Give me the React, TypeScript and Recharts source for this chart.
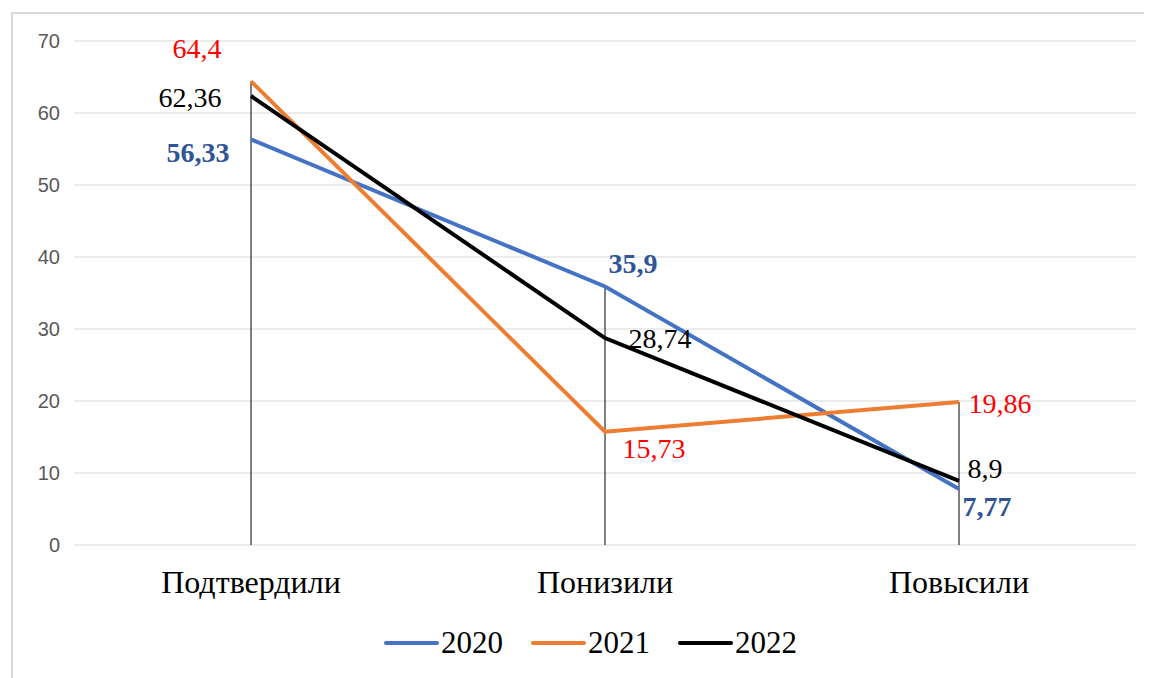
import { CartesianGrid, Legend, Line, LineChart, ReferenceLine, XAxis, YAxis } from 'recharts';

const categories = ['Подтвердили', 'Понизили', 'Повысили'];
const values2020 = [56.33, 35.9, 7.77];
const values2021 = [64.4, 15.73, 19.86];
const values2022 = [62.36, 28.74, 8.9];
const yTicks = [0, 10, 20, 30, 40, 50, 60, 70];

const data = categories.map((category, i) => ({
  category,
  y2020: values2020[i],
  y2021: values2021[i],
  y2022: values2022[i],
}));

// highest value per category, for the drop lines
const dropTops = categories.map((_, i) => Math.max(values2020[i], values2021[i], values2022[i]));

const series = [
  { key: 'y2020', name: '2020', color: '#4472C4', labelColor: '#2F5597', bold: true },
  { key: 'y2021', name: '2021', color: '#ED7D31', labelColor: '#FF0000', bold: false },
  { key: 'y2022', name: '2022', color: '#000000', labelColor: '#000000', bold: false },
];

// label offsets from the point (dx, dy) per series, per category
const labelOffsets: { [key: string]: number[][] } = {
  y2020: [[-53, 13], [28, -23], [28, 17]],
  y2021: [[-54, -33], [49, 17], [41, 1]],
  y2022: [[-61, 1], [55, 0], [26, -12]],
};

const serif = '"Liberation Serif", "Times New Roman", serif';

const makeLabel = (s: (typeof series)[number]) => (props: any) => {
  const { x, y, value, index } = props;
  const [dx, dy] = labelOffsets[s.key][index];
  return (
    <text
      x={x + dx}
      y={y + dy}
      textAnchor='middle'
      dominantBaseline='central'
      fill={s.labelColor}
      fontFamily={serif}
      fontSize={28}
      fontWeight={s.bold ? 700 : 400}
    >
      {String(value).replace('.', ',')}
    </text>
  );
};

const LegendContent = () => (
  <div style={{ display: 'flex', alignItems: 'center', fontFamily: serif, fontSize: 31, color: '#000', height: 30 }}>
    {series.map((s, i) => (
      <div key={s.key} style={{ display: 'flex', alignItems: 'center', marginLeft: i === 0 ? 0 : 28 }}>
        <span style={{ display: 'inline-block', width: 55, height: 4, borderRadius: 2, background: s.color, marginRight: 2 }} />
        <span>{s.name}</span>
      </div>
    ))}
  </div>
);

export default function App() {
  return (
    <div style={{ position: 'relative', width: 1144, height: 670 }}>
      <div
        style={{
          position: 'absolute',
          left: 3,
          top: 4,
          right: 0,
          bottom: 0,
          borderTop: '2px solid #d9d9d9',
          borderLeft: '2px solid #d9d9d9',
        }}
      />
      <LineChart width={1144} height={670} data={data} margin={{ top: 33, right: 16, left: 0, bottom: 20 }}>
        <CartesianGrid vertical={false} stroke='#d9d9d9' strokeWidth={1} />
        <XAxis
          dataKey='category'
          padding={{ left: 177, right: 177 }}
          axisLine={false}
          tickLine={false}
          tickMargin={19}
          height={83}
          tick={{ fill: '#000', fontSize: 32, fontFamily: serif }}
        />
        <YAxis
          domain={[0, 70]}
          ticks={yTicks}
          axisLine={false}
          tickLine={false}
          tickMargin={8}
          width={66}
          tick={{ fill: '#595959', fontSize: 20, fontFamily: '"Liberation Sans", Arial, sans-serif' }}
        />
        {categories.map((c, i) => (
          <ReferenceLine
            key={c}
            segment={[
              { x: c, y: 0 },
              { x: c, y: dropTops[i] },
            ]}
            stroke='#000'
            strokeWidth={1}
          />
        ))}
        <Legend
          verticalAlign='bottom'
          height={30}
          content={<LegendContent />}
          wrapperStyle={{ left: 376, width: 'auto' }}
        />
        {series.map((s) => (
          <Line
            key={s.key}
            type='linear'
            dataKey={s.key}
            name={s.name}
            stroke={s.color}
            strokeWidth={4}
            dot={false}
            activeDot={false}
            isAnimationActive={false}
            label={makeLabel(s)}
          />
        ))}
      </LineChart>
    </div>
  );
}
